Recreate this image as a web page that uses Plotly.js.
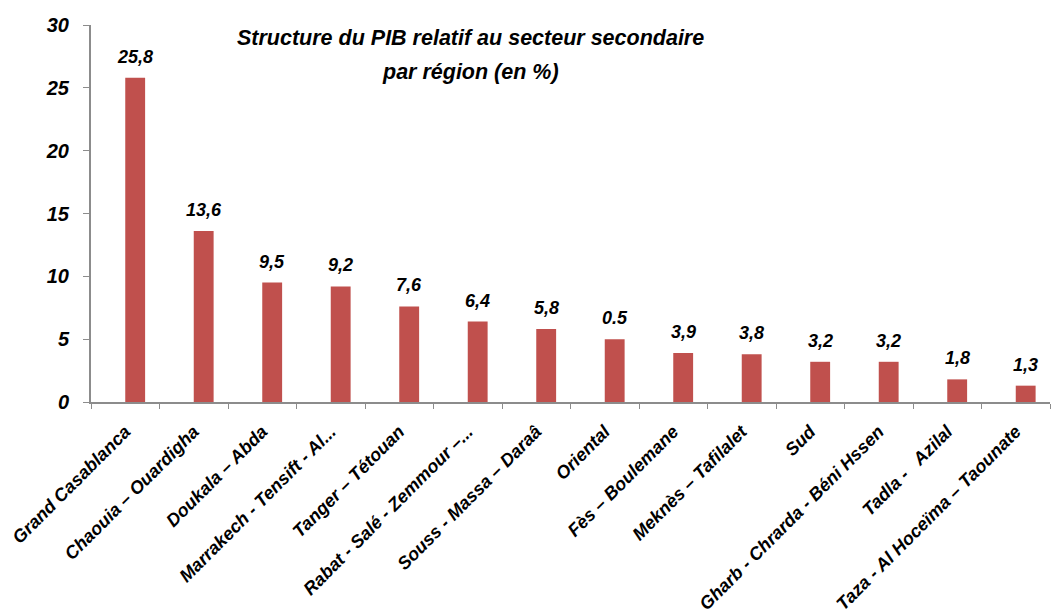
<!DOCTYPE html>
<html>
<head>
<meta charset="utf-8">
<script src="https://cdn.plot.ly/plotly-3.0.1.min.js"></script>
<style>
	body { margin: 0; background: #fff; }
	#plot { width: 1054px; height: 612px; }
</style>
</head>
<body>
<div id="plot"></div>
<script>
// régions, valeurs et étiquettes
const regions = [
	"Grand Casablanca",
	"Chaouia – Ouardigha",
	"Doukala – Abda",
	"Marrakech - Tensift - Al...",
	"Tanger – Tétouan",
	"Rabat - Salé - Zemmour –...",
	"Souss - Massa – Daraâ",
	"Oriental",
	"Fès – Boulemane",
	"Meknès – Tafilalet",
	"Sud",
	"Gharb - Chrarda - Béni Hssen",
	"Tadla -   Azilal",
	"Taza - Al Hoceïma – Taounate"
];
const values = [25.8, 13.6, 9.5, 9.2, 7.6, 6.4, 5.8, 5.0, 3.9, 3.8, 3.2, 3.2, 1.8, 1.3];
const labels = ["25,8", "13,6", "9,5", "9,2", "7,6", "6,4", "5,8", "0.5", "3,9", "3,8", "3,2", "3,2", "1,8", "1,3"];
const yTicks = [0, 5, 10, 15, 20, 25, 30];
const titleLines = ["Structure du PIB relatif au secteur secondaire", "par région (en %)"];

const font = "Liberation Sans, Arial, sans-serif";
const axisColor = "#8c8c8c";
const barWidth = 0.29;

const data = [{
	type: "bar",
	x: regions,
	y: values,
	width: barWidth,
	offset: 0,  // barre décalée à droite du centre, comme dans Excel
	marker: { color: "#C0504D" },
	hoverinfo: "skip"
}];

const annotations = regions.map((r, i) => ({
	x: r,
	y: values[i],
	xref: "x",
	yref: "y",
	text: "<b><i>" + labels[i] + "</i></b>",
	showarrow: false,
	yanchor: "bottom",
	xshift: 10,
	yshift: 9,
	font: { family: font, size: 18, color: "#000" }
}));

// titre en deux annotations pour caler l'interligne
titleLines.forEach((t, i) => {
	annotations.push({
		xref: "paper",
		yref: "paper",
		x: 0.396,
		y: [0.9655, 0.8753][i],
		yanchor: "middle",
		text: "<b><i>" + t + "</i></b>",
		showarrow: false,
		font: { family: font, size: 21.5, color: "#000" }
	});
});

const layout = {
	width: 1054,
	height: 612,
	margin: { l: 91, r: 4, t: 25, b: 210 },
	paper_bgcolor: "#fff",
	plot_bgcolor: "#fff",
	showlegend: false,
	xaxis: {
		type: "category",
		tickangle: -45,
		tickson: "boundaries",
		ticks: "outside",
		ticklen: 5,
		tickcolor: axisColor,
		showline: true,
		linecolor: axisColor,
		linewidth: 2,
		showgrid: false,
		automargin: false,
		ticklabelstandoff: 10,
		tickfont: { family: font, size: 18, color: "#000", weight: "bold", style: "italic" }
	},
	yaxis: {
		range: [0, 30],
		tickvals: yTicks,
		ticks: "outside",
		ticklen: 6,
		tickcolor: axisColor,
		showline: true,
		linecolor: axisColor,
		linewidth: 2,
		showgrid: false,
		zeroline: false,
		ticklabelstandoff: 10,
		tickfont: { family: font, size: 20, color: "#000", weight: "bold", style: "italic" }
	},
	annotations: annotations
};

Plotly.newPlot("plot", data, layout, { displayModeBar: false, staticPlot: true });
</script>
</body>
</html>
